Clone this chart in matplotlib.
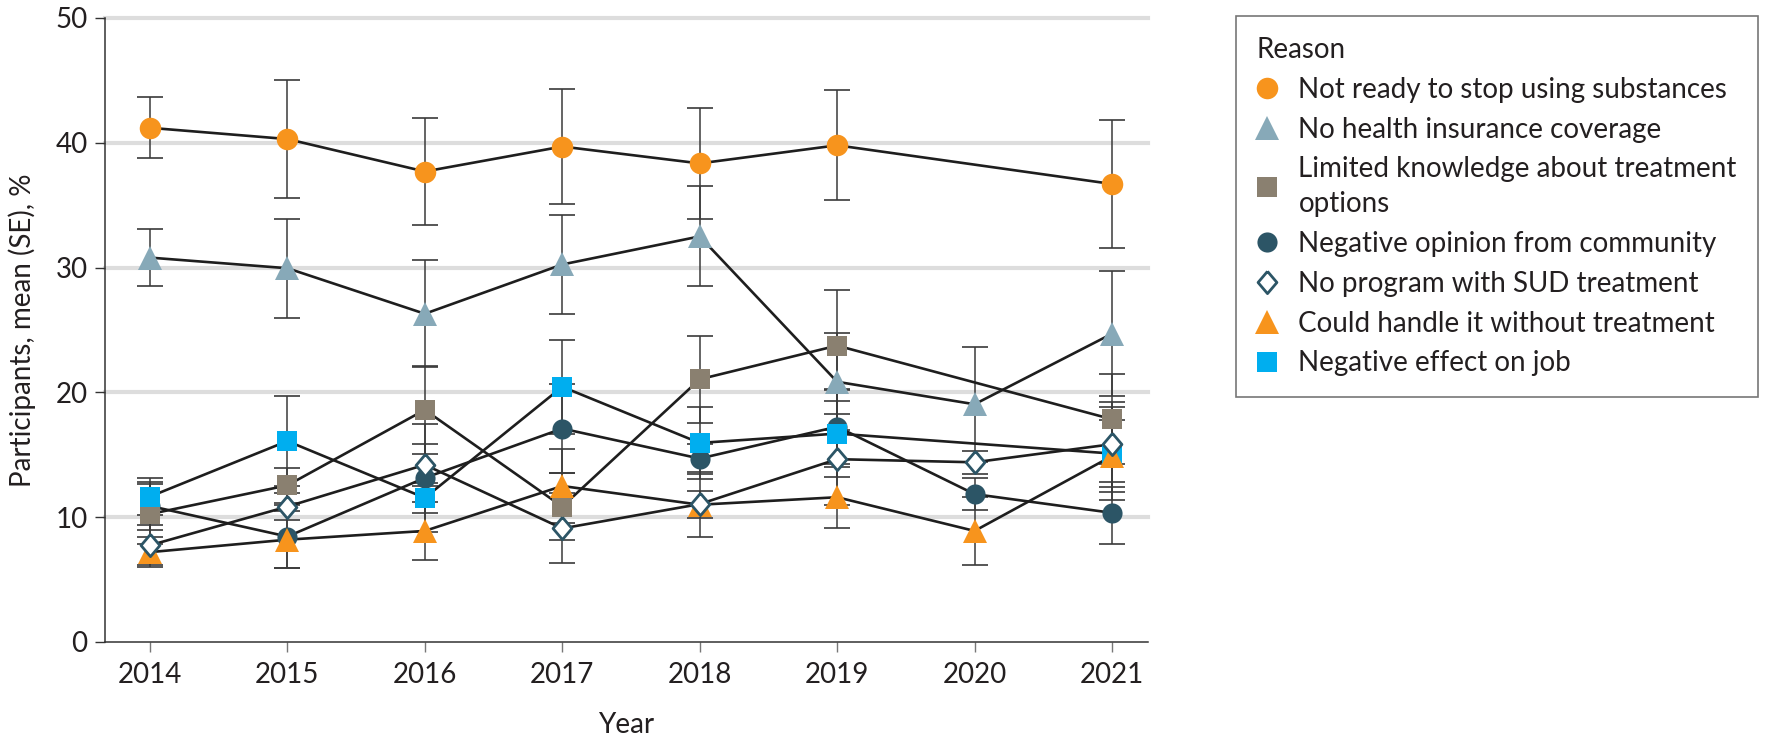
import numpy as np
import matplotlib
matplotlib.use("Agg")
import matplotlib.pyplot as plt
from matplotlib.lines import Line2D

plt.rcParams['font.family'] = ['Lato', 'DejaVu Sans']

# Data (mean %, SE); nan = no estimate that year
years = [2014, 2015, 2016, 2017, 2018, 2019, 2020, 2021]
nan = np.nan

not_ready = [41.2, 40.3, 37.7, 39.7, 38.35, 39.8, nan, 36.7]
not_ready_se = [2.45, 4.75, 4.3, 4.6, 4.45, 4.4, nan, 5.15]
no_insurance = [30.8, 29.95, 26.3, 30.25, 32.5, 20.85, 19.05, 24.7]
no_insurance_se = [2.3, 3.95, 4.3, 4.0, 4.0, 3.9, 4.6, 5.0]
limited_knowledge = [10.25, 12.55, 18.6, 10.85, 21.05, 23.75, nan, 17.85]
limited_knowledge_se = [2.4, 1.4, 3.5, 2.7, 3.5, 4.45, nan, 3.6]
neg_opinion = [10.9, 8.45, 13.15, 17.1, 14.7, 17.25, 11.85, 10.35]
neg_opinion_se = [1.9, 2.5, 4.3, 3.55, 1.2, 3.0, 1.3, 2.5]
no_program = [7.75, 10.85, 14.2, 9.1, 11.05, 14.65, 14.4, 15.85]
no_program_se = [1.6, 1.1, 1.7, 2.8, 2.6, 3.65, 0.9, 3.4]
handle_alone = [7.2, 8.2, 8.9, 12.5, 11.0, 11.6, 8.9, 14.9]
handle_alone_se = [1.2, 2.3, 2.3, 2.95, 1.1, 2.45, 2.7, 2.9]
neg_job = [11.65, 16.1, 11.55, 20.45, 15.95, 16.7, nan, 15.1]
neg_job_se = [1.5, 3.6, 1.2, 3.75, 2.9, 3.5, nan, 3.75]

labels = [
    "Not ready to stop using substances",
    "No health insurance coverage",
    "Limited knowledge about treatment\noptions",
    "Negative opinion from community",
    "No program with SUD treatment",
    "Could handle it without treatment",
    "Negative effect on job",
]

diamond = [(0, 1), (0.85, 0), (0, -1), (-0.85, 0), (0, 1)]

# label, values, se, marker style
series = [
    (labels[0], not_ready, not_ready_se, dict(marker='o', ms=15.5, color='#F7941D', mew=0)),
    (labels[1], no_insurance, no_insurance_se, dict(marker='^', ms=17, color='#87A9B8', mew=0)),
    (labels[2], limited_knowledge, limited_knowledge_se, dict(marker='s', ms=15, color='#8A8070', mew=0)),
    (labels[3], neg_opinion, neg_opinion_se, dict(marker='o', ms=14.5, color='#2C5566', mew=0)),
    (labels[4], no_program, no_program_se, dict(marker=diamond, ms=16, mfc='white', mec='#2C5566', mew=2.0, color='#2C5566')),
    (labels[5], handle_alone, handle_alone_se, dict(marker='^', ms=17, color='#F7941D', mew=0)),
    (labels[6], neg_job, neg_job_se, dict(marker='s', ms=15, color='#00AEEF', mew=0)),
]

# drawing order of markers (which sits on top)
draw_order = [0, 1, 3, 2, 6, 5, 4]

fig = plt.figure(figsize=(17.66, 7.39), dpi=100)
ax = fig.add_axes([105 / 1766, 1 - 642 / 739, (1148 - 105) / 1766, (642 - 18) / 739])

for z, idx in enumerate(draw_order):
    name, vals, se, style = series[idx]
    x = np.array(years, dtype=float)
    y = np.array(vals, dtype=float)
    e = np.array(se, dtype=float)
    ok = ~np.isnan(y)
    ax.errorbar(x[ok], y[ok], yerr=e[ok], fmt='none', ecolor='#3a3a3a',
                elinewidth=1.1, capsize=9.5, capthick=1.2, zorder=2)
    ax.plot(x[ok], y[ok], color='#1e1e1e', lw=1.9, zorder=3)
    ax.plot(x[ok], y[ok], ls='none', zorder=5 + z, **style)

ax.set_xlim(2013.673, 2021.262)
ax.set_ylim(0, 50)
ax.set_xticks(years)
ax.set_yticks([0, 10, 20, 30, 40, 50])

for v in [10, 20, 30, 40, 50]:
    ax.axhline(v, color='#dddddd', lw=3, zorder=0, clip_on=False)

for s in ['top', 'right']:
    ax.spines[s].set_visible(False)
for s in ['left', 'bottom']:
    ax.spines[s].set_color('#333333')
    ax.spines[s].set_linewidth(1.1)

ax.tick_params(axis='x', length=7.5, width=1.0, color='#777777', pad=7,
               labelsize=20, labelcolor='#231f20')
ax.tick_params(axis='y', length=7.5, width=1.0, color='#333333', pad=5,
               labelsize=20, labelcolor='#231f20')

ax.set_xlabel('Year', fontsize=20, color='#231f20', labelpad=17)
ax.set_ylabel('Participants, mean (SE), %', fontsize=20, color='#231f20')
ax.yaxis.set_label_coords(-0.066, 0.5)

handles = []
for name, vals, se, style in series:
    handles.append(Line2D([], [], ls='none', label=name, **style))

leg = fig.legend(handles=handles, loc='upper left',
                 bbox_to_anchor=(1236 / 1766, 1 - 16 / 739),
                 bbox_transform=fig.transFigure,
                 title='Reason', title_fontsize=20, fontsize=20,
                 frameon=True, fancybox=False, edgecolor='#555555',
                 borderpad=0.75, handlelength=0.7, handletextpad=0.8,
                 labelspacing=0.5, borderaxespad=0, alignment='left')
leg.get_frame().set_linewidth(1.2)
for t in leg.get_texts():
    t.set_color('#231f20')
    t.set_linespacing(1.4)
leg.get_title().set_color('#231f20')

fig.savefig('out.png', dpi=100)
